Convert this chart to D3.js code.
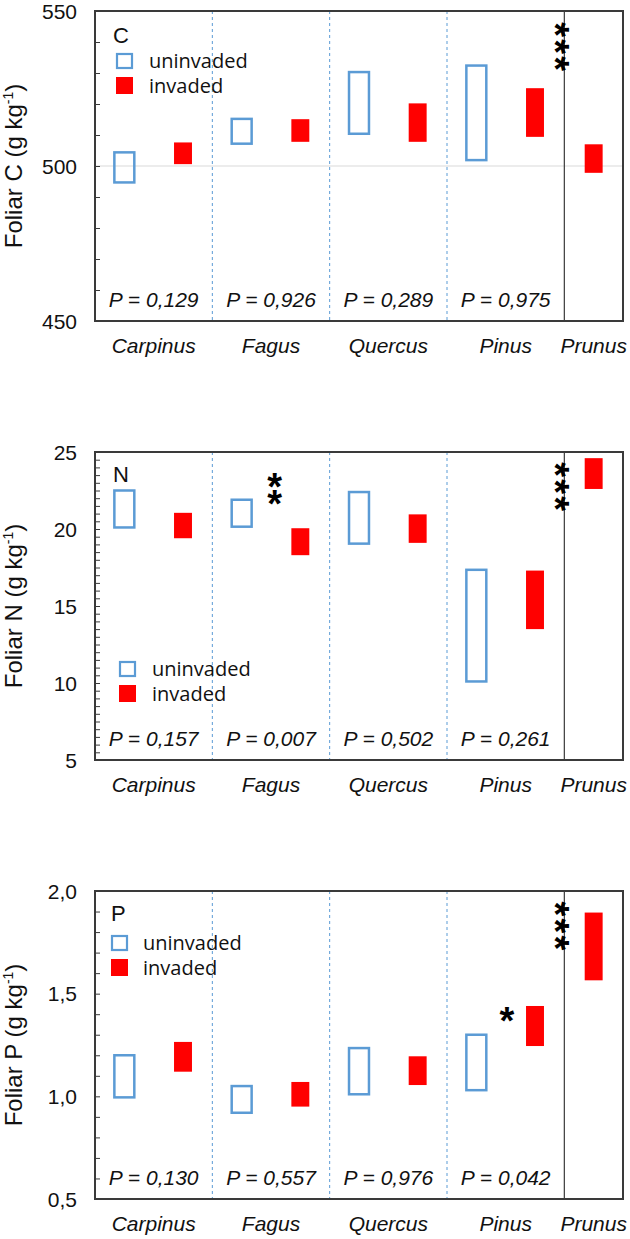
<!DOCTYPE html>
<html>
<head>
<meta charset="utf-8">
<script src="https://cdn.jsdelivr.net/npm/d3@7"></script>
<style>
  body { margin: 0; background: #fff; }
  svg { display: block; }
</style>
</head>
<body>
<svg id="chart" width="630" height="1239"></svg>
<script>
// ---------------- DATA ----------------
const categories = ["Carpinus", "Fagus", "Quercus", "Pinus", "Prunus"];
const seriesNames = ["uninvaded", "invaded"];

// [low, high] ranges per category (null = no box)
const cUninvaded = [[494.7, 504.4], [507.2, 515.2], [510.4, 530.3], [501.9, 532.4], null];
const cInvaded   = [[500.6, 507.6], [507.8, 515.1], [507.8, 520.2], [509.4, 525.1], [497.8, 507.0]];
const nUninvaded = [[20.1, 22.5], [20.15, 21.9], [19.05, 22.4], [10.1, 17.35], null];
const nInvaded   = [[19.4, 21.05], [18.3, 20.05], [19.1, 20.95], [13.5, 17.3], [22.6, 24.6]];
const pUninvaded = [[0.995, 1.2], [0.92, 1.05], [1.01, 1.235], [1.03, 1.3], null];
const pInvaded   = [[1.12, 1.265], [0.95, 1.07], [1.055, 1.195], [1.245, 1.44], [1.565, 1.895]];

const cPvalues = ["0,129", "0,926", "0,289", "0,975"];
const nPvalues = ["0,157", "0,007", "0,502", "0,261"];
const pPvalues = ["0,130", "0,557", "0,976", "0,042"];

const cTicks = [450, 500, 550];
const nTicks = [5, 10, 15, 20, 25];
const pTicks = [0.5, 1.0, 1.5, 2.0];

// significance stars: category position (x units), value (y), text, rotated
const cStars = [{ pos: 4.0, value: 538.5, text: "***", rotated: true }];
const nStars = [{ pos: 1.53, value: 22.75, text: "**", rotated: false },
                { pos: 4.0, value: 22.75, text: "***", rotated: true }];
const pStars = [{ pos: 3.51, value: 1.41, text: "*", rotated: false },
                { pos: 4.0, value: 1.83, text: "***", rotated: true }];

// ---------------- LAYOUT ----------------
const svg = d3.select("#chart");
const left = 95, right = 623;
const blue = "#5b9bd5", red = "#ff0000", axisCol = "#3a3a3a";
const font = "'Liberation Sans', Arial, sans-serif";
const legendFont = "'Open Sans', sans-serif";

const x = d3.scaleLinear().domain([0, 4.5]).range([left, right]);
const boxW = x(0.17) - x(0);

const panels = [
  { letter: "C", top: 11, bottom: 321, domain: [450, 550], ticks: cTicks, minor: 10,
    fmt: d => String(d), unin: cUninvaded, inv: cInvaded, pvals: cPvalues, stars: cStars,
    grid: 500, legend: { lx: 113, ly: 43, sx: 116, sy: 53, tx: 149 } , pY: 307},
  { letter: "N", top: 452, bottom: 760, domain: [5, 25], ticks: nTicks, minor: 0.5,
    fmt: d => String(d), unin: nUninvaded, inv: nInvaded, pvals: nPvalues, stars: nStars,
    grid: null, legend: { lx: 113, ly: 482, sx: 119, sy: 661, tx: 152 }, pY: 746 },
  { letter: "P", top: 891, bottom: 1199, domain: [0.5, 2.0], ticks: pTicks, minor: 0.1,
    fmt: d => d3.format(".1f")(d).replace(".", ","), unin: pUninvaded, inv: pInvaded, pvals: pPvalues, stars: pStars,
    grid: null, legend: { lx: 111, ly: 921, sx: 111, sy: 935, tx: 143 }, pY: 1185 }
];

panels.forEach(p => {
  const g = svg.append("g");
  const y = d3.scaleLinear().domain(p.domain).range([p.bottom, p.top]);

  // gridline
  if (p.grid !== null) {
    g.append("line").attr("x1", left).attr("x2", right)
      .attr("y1", y(p.grid)).attr("y2", y(p.grid))
      .attr("stroke", "#d9d9d9").attr("stroke-width", 1);
  }

  // separators
  [1, 2, 3].forEach(i => {
    g.append("line").attr("x1", x(i)).attr("x2", x(i))
      .attr("y1", p.top).attr("y2", p.bottom)
      .attr("stroke", blue).attr("stroke-width", 1).attr("stroke-dasharray", "3,3");
  });
  g.append("line").attr("x1", x(4)).attr("x2", x(4))
    .attr("y1", p.top).attr("y2", p.bottom)
    .attr("stroke", axisCol).attr("stroke-width", 1.2);

  // minor ticks (inward)
  const n = Math.round((p.domain[1] - p.domain[0]) / p.minor);
  const minorVals = d3.range(n + 1).map(i => p.domain[0] + i * p.minor);
  const yAxis = d3.axisRight(y).tickValues(minorVals).tickSize(5).tickFormat("");
  const ax = g.append("g").attr("transform", `translate(${left},0)`).call(yAxis);
  ax.select(".domain").remove();
  ax.selectAll("line").attr("stroke", axisCol).attr("stroke-width", 1);

  // tick labels
  g.selectAll(".tl").data(p.ticks).enter().append("text")
    .attr("x", 77).attr("y", d => y(d)).attr("dy", "0.36em")
    .attr("text-anchor", "end").attr("font-family", font).attr("font-size", 21)
    .attr("fill", "#111").text(p.fmt);

  // frame
  g.append("rect").attr("x", left).attr("y", p.top)
    .attr("width", right - left).attr("height", p.bottom - p.top)
    .attr("fill", "none").attr("stroke", axisCol).attr("stroke-width", 2);

  // uninvaded boxes
  const uninData = p.unin.map((r, i) => ({ r, i })).filter(d => d.r);
  g.selectAll(".unin").data(uninData).enter().append("rect")
    .attr("x", d => x(d.i + 0.25) - boxW / 2)
    .attr("y", d => y(d.r[1]))
    .attr("width", boxW)
    .attr("height", d => y(d.r[0]) - y(d.r[1]))
    .attr("fill", "none").attr("stroke", blue).attr("stroke-width", 2.5);

  // invaded boxes
  const invData = p.inv.map((r, i) => ({ r, i })).filter(d => d.r);
  g.selectAll(".inv").data(invData).enter().append("rect")
    .attr("x", d => (d.i === 4 ? x(4.25) : x(d.i + 0.75)) - (boxW - 2) / 2)
    .attr("y", d => y(d.r[1]))
    .attr("width", boxW - 2)
    .attr("height", d => y(d.r[0]) - y(d.r[1]))
    .attr("fill", red);

  // P values
  g.selectAll(".pv").data(p.pvals).enter().append("text")
    .attr("x", (d, i) => x(i + 0.5)).attr("y", p.pY)
    .attr("text-anchor", "middle").attr("font-family", font).attr("font-size", 21)
    .attr("font-style", "italic").attr("fill", "#111")
    .text(d => "P = " + d);

  // category labels
  g.selectAll(".cat").data(categories).enter().append("text")
    .attr("x", (d, i) => i === 4 ? x(4.25) : x(i + 0.5)).attr("y", p.bottom + 32)
    .attr("text-anchor", "middle").attr("font-family", font).attr("font-size", 21)
    .attr("font-style", "italic").attr("fill", "#111").text(d => d);

  // y title
  const t = g.append("text")
    .attr("transform", `translate(22,${(p.top + p.bottom) / 2}) rotate(-90)`)
    .attr("text-anchor", "middle").attr("font-family", font).attr("font-size", 24)
    .attr("fill", "#111");
  t.append("tspan").text(`Foliar ${p.letter} (g kg`);
  t.append("tspan").attr("font-size", 14).attr("dy", -9).text("-1");
  t.append("tspan").attr("dy", 9).text(")");

  // legend
  const L = p.legend;
  g.append("text").attr("x", L.lx).attr("y", L.ly).attr("font-family", font)
    .attr("font-size", 22).attr("fill", "#111").text(p.letter);
  g.append("rect").attr("x", L.sx + 1).attr("y", L.sy + 1).attr("width", 15).attr("height", 14)
    .attr("fill", "none").attr("stroke", blue).attr("stroke-width", 2.2);
  g.append("rect").attr("x", L.sx).attr("y", L.sy + 24).attr("width", 17).attr("height", 17)
    .attr("fill", red);
  g.append("text").attr("x", L.tx).attr("y", L.sy + 15).attr("font-family", legendFont)
    .attr("font-size", 20).attr("fill", "#111").text(seriesNames[0]);
  g.append("text").attr("x", L.tx).attr("y", L.sy + 40).attr("font-family", legendFont)
    .attr("font-size", 20).attr("fill", "#111").text(seriesNames[1]);

  // stars
  p.stars.forEach(s => {
    const k = s.text.length;
    const spacing = 17;
    d3.range(k).forEach(j => {
      const cy = y(s.value) + (j - (k - 1) / 2) * spacing;
      g.append("text")
        .attr("transform", `translate(${x(s.pos)},${cy}) rotate(${s.rotated ? 90 : 0})`)
        .attr("text-anchor", "middle").attr("dy", "0.58em")
        .attr("font-family", font).attr("font-size", 38).attr("font-weight", "bold")
        .attr("fill", "#000")
        .text("*");
    });
  });
});
</script>
</body>
</html>
